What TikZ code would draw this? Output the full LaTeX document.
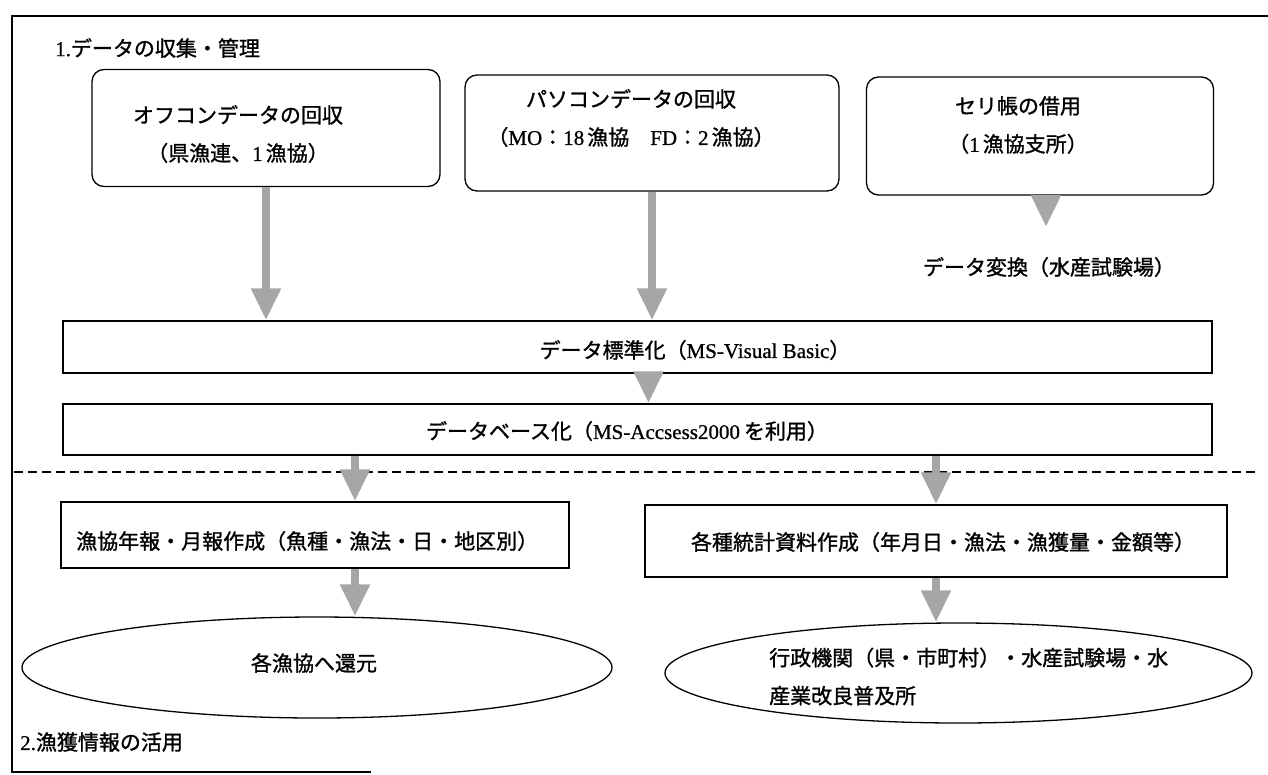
\documentclass[tikz,border=0pt]{standalone}
\usepackage{fontspec}
\setmainfont{Noto Sans CJK JP}[FakeBold=1.2]
\newfontfamily\lat{Liberation Serif}[FakeBold=0.8]
\usetikzlibrary{arrows.meta,shapes.geometric}
\tikzset{
  rbox/.style={draw,rounded corners=12pt,line width=1.3pt,inner sep=0pt},
  sbox/.style={draw,line width=1.3pt,inner sep=0pt},
  obox/.style={draw,ellipse,line width=1.3pt,inner sep=0pt},
  txt/.style={inner sep=0pt,align=center},
  gar/.style={line width=8pt,draw=black!35,-{Triangle[width=28pt,length=32pt]}}
}
\begin{document}
\begin{tikzpicture}[x=1pt,y=-1pt,font=\fontsize{21}{38}\selectfont]
\useasboundingbox (0,0) rectangle (1268,774);
% frame
\draw[line width=1.3pt] (1268,16) -- (12,16) -- (12,772) -- (371,772);
\draw[line width=1.3pt,dash pattern=on 9pt off 5pt] (14,472) -- (1256,472);
%
\node[txt,anchor=west] (t0) at (55,48) {{\lat 1.}データの収集・管理};
\node[rbox,minimum width=348pt,minimum height=117pt] (b0) at (266,128) {};
\node[rbox,minimum width=374pt,minimum height=116pt] (b1) at (652,133) {};
\node[rbox,minimum width=347pt,minimum height=118pt] (b2) at (1040,136) {};
\node[txt] (t1) at (238,134) {オフコンデータの回収\\（県漁連、{\lat 1}\hspace{3pt}漁協）};
\node[txt] (t2) at (631,118) {パソコンデータの回収\\（{\lat MO}：{\lat 18}\hspace{3pt}漁協　{\lat FD}：{\lat 2}\hspace{3pt}漁協）};
\node[txt] (t3) at (1018,125) {セリ帳の借用\\（{\lat 1}\hspace{3pt}漁協支所）};
\node[txt] (cv) at (1049,267) {データ変換（水産試験場）};
%
\node[sbox,minimum width=1149pt,minimum height=52pt] (s) at (637.5,347) {};
\node[txt] (ts) at (695,350) {データ標準化（{\lat MS-Visual Basic}）};
\node[sbox,minimum width=1149pt,minimum height=51pt] (d) at (637.5,429.5) {};
\node[txt] (td) at (627,431) {データベース化（{\lat MS-Accsess2000}\hspace{4pt}を利用）};
%
\node[sbox,minimum width=508pt,minimum height=66pt] (y0) at (315,535) {};
\node[txt,anchor=west] (ty0) at (76,541) {漁協年報・月報作成（魚種・漁法・日・地区別）};
\node[sbox,minimum width=582pt,minimum height=72pt] (y1) at (936,541) {};
\node[txt] (ty1) at (943,542) {各種統計資料作成（年月日・漁法・漁獲量・金額等）};
%
\node[obox,minimum width=590pt,minimum height=101pt] (e0) at (317,667.5) {};
\node[txt] (te0) at (314,663) {各漁協へ還元};
\node[obox,minimum width=587pt,minimum height=100pt] (e1) at (958.5,673) {};
\node[txt,align=left,anchor=west] (te1) at (769,676.5) {行政機関（県・市町村）・水産試験場・水\\産業改良普及所};
\node[txt,anchor=west] (t4) at (20,742) {{\lat 2.}漁獲情報の活用};
%
\coordinate (c2) at (1046,227);
\draw[gar] (b0.south) -- (b0.south |- s.north);
\draw[gar] (b1.south) -- (b1.south |- s.north);
\draw[gar] (b2.south -| c2) -- (c2);
\draw[gar] ([xshift=11pt]s.south) -- ([xshift=11pt]s.south |- d.north);
\draw[gar] ([xshift=40pt]y0.north |- d.south) -- ([xshift=40pt]y0.north);
\draw[gar] (y1.north |- d.south) -- (y1.north);
\draw[gar] ([xshift=40pt]y0.south) -- ([xshift=40pt]y0.south |- e0.north);
\draw[gar] (y1.south) -- (y1.south |- e1.north);
\end{tikzpicture}
\end{document}
